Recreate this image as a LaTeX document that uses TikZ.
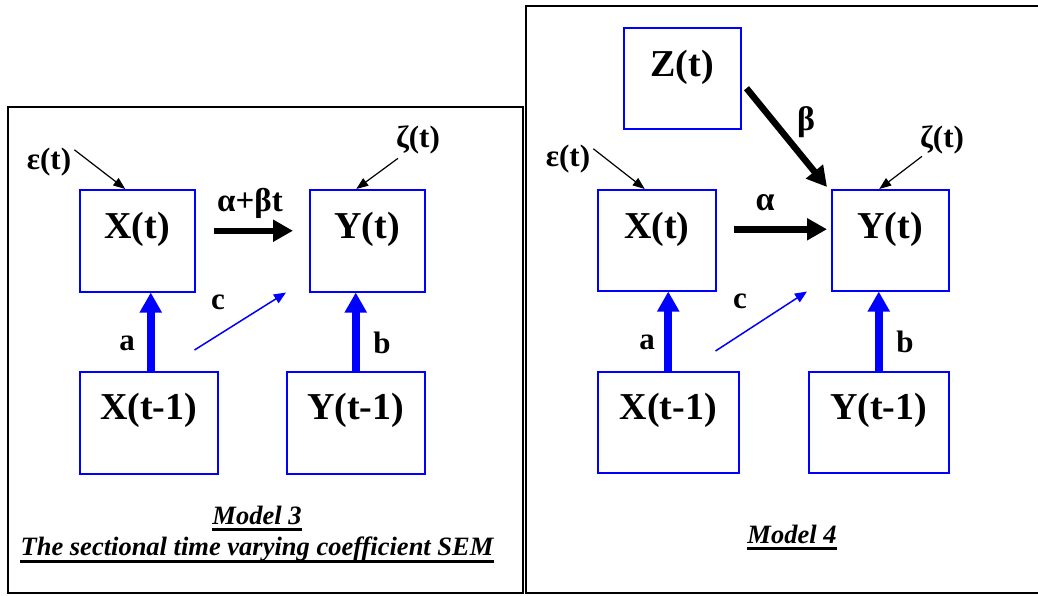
\documentclass[tikz,border=0pt]{standalone}
\usepackage{fontspec}
\setmainfont{Liberation Serif}
\usetikzlibrary{arrows.meta}
\tikzset{
  box/.style={draw=blue, line width=1.5pt, inner sep=0pt, anchor=north west},
  vtext/.style={font=\fontsize{38}{40}\selectfont\bfseries, inner sep=0pt},
  lab/.style={font=\fontsize{31}{34}\selectfont\bfseries, inner sep=0pt},
  captext/.style={font=\fontsize{26.5}{30}\selectfont\bfseries\itshape, inner sep=0pt, anchor=base},
  uline/.style={line width=3pt},
  panel/.style={line width=2pt},
  thinarr/.style={-{Triangle[length=12pt,width=9pt]}, line width=1.2pt},
  thickarr/.style={-{Triangle[length=20pt,width=21pt]}, line width=6.5pt},
  bluethick/.style={draw=blue, -{Triangle[length=20pt,width=21pt]}, line width=8pt},
  bluethin/.style={draw=blue, -{Triangle[length=12pt,width=10pt]}, line width=1.5pt},
}
\begin{document}
\begin{tikzpicture}[x=1pt,y=-1pt]
\useasboundingbox (0,0) rectangle (1038,595);
% panels
\draw[panel] (8,107) rectangle (523,593);
\draw[panel] (1040,6) -- (526,6) -- (526,593) -- (1040,593);

% ---------- Model 3 ----------
\node[box, minimum width=115pt, minimum height=102pt] (Lxt) at (79,189) {};
\node[box, minimum width=115pt, minimum height=102pt] (Lyt) at (309,189) {};
\node[box, minimum width=138pt, minimum height=102pt] (Lxp) at (79,371) {};
\node[box, minimum width=138pt, minimum height=102pt] (Lyp) at (286,371) {};
\node[vtext] (Lxt-t) at ([yshift=-40pt]Lxt.north) {X(t)};
\node[vtext] (Lyt-t) at ([yshift=-40pt]Lyt.north) {Y(t)};
\node[vtext] (Lxp-t) at ([yshift=-39pt]Lxp.north) {X(t-1)};
\node[vtext] (Lyp-t) at ([yshift=-39pt]Lyp.north) {Y(t-1)};

\node[lab] (Leps) at (49,162) {ε(t)};
\node[lab] (Lzeta) at (418,140) {ζ(t)};
\draw[thinarr] ([xshift=3pt,yshift=-2pt]Leps.north east) -- ([xshift=-12pt]Lxt.north);
\draw[thinarr] ([xshift=2pt,yshift=-4pt]Lzeta.south west) -- ([xshift=-11pt]Lyt.north);

\node[lab, font=\fontsize{33}{36}\selectfont\bfseries] (Lab) at (250,203) {α+βt};
\draw[thickarr] ([xshift=18pt,yshift=10pt]Lxt.east) -- ([xshift=-16pt,yshift=10pt]Lyt.west);

\draw[bluethick] ([xshift=2pt]Lxp.north) -- ([xshift=2pt]Lxp.north |- Lxt.south);
\draw[bluethick] (Lyp.north) -- (Lyp.north |- Lyt.south);
\draw[bluethin] ([xshift=-24pt,yshift=21pt]Lxp.north east) -- ([xshift=-23pt]Lyt.south west);
\node[lab] (La) at (127,343) {a};
\node[lab] (Lb) at (382,343) {b};
\node[lab] (Lc) at (218,302) {c};

\node[captext] (Lcap1) at (257,524) {Model 3};
\node[captext] (Lcap2) at (257,555) {The sectional time varying coefficient SEM};
\draw[uline] ([yshift=-5pt]Lcap1.base west) -- ([yshift=-5pt]Lcap1.base east);
\draw[uline] ([yshift=-6pt]Lcap2.base west) -- ([yshift=-6pt]Lcap2.base east);

% ---------- Model 4 ----------
\node[box, minimum width=117pt, minimum height=101pt] (Rzt) at (623,27) {};
\node[box, minimum width=118pt, minimum height=101pt] (Rxt) at (597,189) {};
\node[box, minimum width=117pt, minimum height=101pt] (Ryt) at (831,189) {};
\node[box, minimum width=141pt, minimum height=101pt] (Rxp) at (597,371) {};
\node[box, minimum width=140pt, minimum height=101pt] (Ryp) at (808,371) {};
\node[vtext] (Rzt-t) at ([yshift=-40pt]Rzt.north) {Z(t)};
\node[vtext] (Rxt-t) at ([yshift=-40pt]Rxt.north) {X(t)};
\node[vtext] (Ryt-t) at ([yshift=-40pt]Ryt.north) {Y(t)};
\node[vtext] (Rxp-t) at ([yshift=-39pt]Rxp.north) {X(t-1)};
\node[vtext] (Ryp-t) at ([yshift=-39pt]Ryp.north) {Y(t-1)};

\node[lab] (Reps) at (568,159) {ε(t)};
\node[lab] (Rzeta) at (942,140) {ζ(t)};
\draw[thinarr] ([xshift=3pt,yshift=-4pt]Reps.north east) -- ([xshift=-12pt]Rxt.north);
\draw[thinarr] ([xshift=2pt,yshift=-2pt]Rzeta.south west) -- ([xshift=-11pt]Ryt.north);

\node[lab, font=\fontsize{34}{36}\selectfont\bfseries] (Ral) at (765,203) {α};
\node[lab, font=\fontsize{34}{36}\selectfont\bfseries] (Rbe) at (806,122) {β};
\draw[thickarr] ([xshift=17pt,yshift=11pt]Rxt.east) -- ([xshift=-4pt,yshift=11pt]Ryt.west);
\draw[thickarr] ([xshift=5pt,yshift=-10pt]Rzt.east) -- ([xshift=-4pt,yshift=2pt]Ryt.north west);

\draw[bluethick] (Rxp.north) -- (Rxp.north |- Rxt.south);
\draw[bluethick] (Ryp.north) -- (Ryp.north |- Ryt.south);
\draw[bluethin] ([xshift=-24pt,yshift=20pt]Rxp.north east) -- ([xshift=-24pt]Ryt.south west);
\node[lab] (Ra) at (647,342) {a};
\node[lab] (Rb) at (905,342) {b};
\node[lab] (Rc) at (740,301) {c};

\node[captext] (Rcap) at (792,543) {Model 4};
\draw[uline] ([yshift=-5pt]Rcap.base west) -- ([yshift=-5pt]Rcap.base east);
\end{tikzpicture}
\end{document}
